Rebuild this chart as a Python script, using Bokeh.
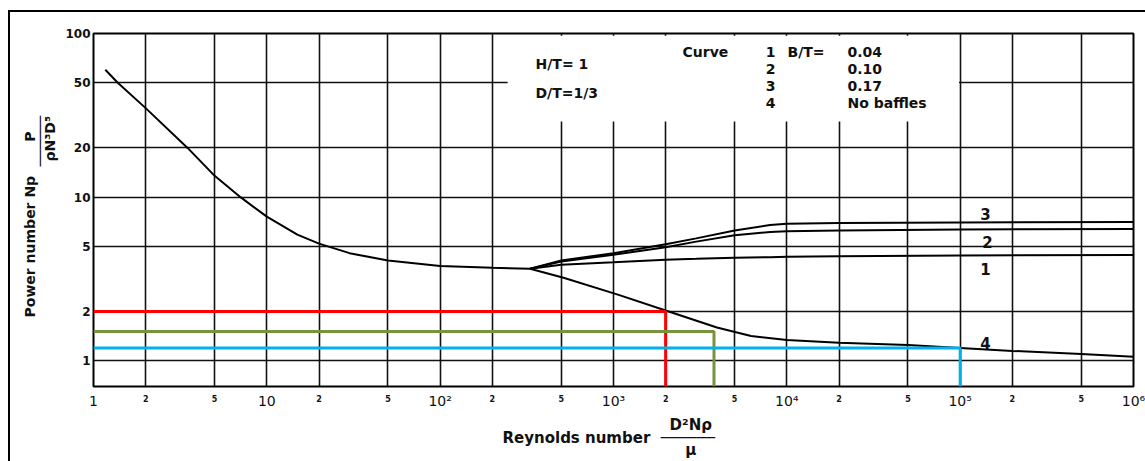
import math
from bokeh.plotting import figure
from bokeh.models import Range1d, FixedTicker, LogAxis, Label, BoxAnnotation, Title
from bokeh.embed import file_html
from bokeh.resources import INLINE

# ---------------- data ----------------
# common laminar branch
main_re = [1.17, 1.38, 2, 3.49, 5, 7.05, 10, 15, 20, 30, 50, 100, 200, 330]
main_np = [60, 50, 35, 20, 13.5, 10, 7.6, 5.9, 5.2, 4.55, 4.1, 3.8, 3.7, 3.65]

# baffled curves 1, 2, 3
baf_re = [330, 500, 1000, 2000, 3000, 5000, 8000, 10000, 20000, 100000, 1000000]
c1_np = [3.65, 3.87, 4.0, 4.15, 4.2, 4.27, 4.3, 4.32, 4.35, 4.4, 4.43]
c2_np = [3.65, 4.05, 4.45, 4.95, 5.35, 5.85, 6.12, 6.2, 6.25, 6.35, 6.4]
c3_np = [3.65, 4.1, 4.55, 5.15, 5.6, 6.25, 6.75, 6.88, 6.95, 7.0, 7.05]

# curve 4: no baffles
c4_re = [330, 515, 1060, 2000, 3950, 6220, 10000, 20000, 50000, 100000, 200000, 500000, 1000000]
c4_np = [3.65, 3.22, 2.54, 2.03, 1.6, 1.42, 1.34, 1.29, 1.25, 1.2, 1.15, 1.1, 1.06]

# coloured read-off guides
guide_re = [2000, 3800, 100000]
guide_np = [2.0, 1.51, 1.2]
guide_colors = ["#FF0000", "#77933C", "#00B0F0"]

# axes
x_grid = [1, 2, 5, 10, 20, 50, 100, 200, 500, 1000, 2000, 5000, 10000, 20000,
          50000, 100000, 200000, 500000, 1000000]
decade_ticks = [1, 10, 100, 1000, 10000, 100000, 1000000]
decade_labels = ["1", "10", "10²", "10³", "10⁴", "10⁵", "10⁶"]
minor_ticks = [2, 5, 20, 50, 200, 500, 2000, 5000, 20000, 50000, 200000, 500000]
minor_labels = ["2", "5", "2", "5", "2", "5", "2", "5", "2", "5", "2", "5"]
y_ticks = [1, 2, 5, 10, 20, 50, 100]
y_labels = ["1", "2", "5", "10", "20", "50", "100"]

legend_curves = ["1", "2", "3", "4"]
legend_bt = ["0.04", "0.10", "0.17", "No baffles"]

FONT = "DejaVu Sans"
INK = "#111111"
W, H = 1145, 461
Y0 = 0.697
NB = "\u00a0"
BAR = "\u2500"

p = figure(width=W, height=H, x_axis_type="log", y_axis_type="log",
           x_range=Range1d(1, 1e6), y_range=Range1d(Y0, 100),
           output_backend="svg", toolbar_location=None,
           min_border_left=93, min_border_right=12, min_border_top=33, min_border_bottom=71)
p.background_fill_color = "white"
p.border_fill_color = None
p.outline_line_color = "black"
p.outline_line_width = 2
# cropped outer frame (left and top edges) drawn behind the transparent canvas border
p.styles = {
    "background-color": "white",
    "background-image": "linear-gradient(#000,#000), linear-gradient(#000,#000)",
    "background-size": "2px 460px, 1140px 2px",
    "background-position": "8px 10px, 8px 10px",
    "background-repeat": "no-repeat",
}

# grid
p.xgrid.ticker = FixedTicker(ticks=x_grid)
p.ygrid.ticker = FixedTicker(ticks=y_ticks)
for g in (p.xgrid, p.ygrid):
    g.grid_line_color = INK
    g.grid_line_width = 1.6
    g.grid_line_alpha = 1

# y axis
ya = p.yaxis[0]
ya.ticker = FixedTicker(ticks=y_ticks)
ya.major_label_overrides = {t: l for t, l in zip(y_ticks, y_labels)}
ya.axis_line_color = None
ya.major_tick_line_color = None
ya.minor_tick_line_color = None
ya.major_tick_out = 0
ya.major_label_standoff = 3
ya.major_label_text_font = FONT
ya.major_label_text_font_style = "bold"
ya.major_label_text_font_size = "12px"
ya.major_label_text_color = INK

# x axis: decade labels
xa = p.xaxis[0]
xa.ticker = FixedTicker(ticks=decade_ticks)
xa.major_label_overrides = {t: l for t, l in zip(decade_ticks, decade_labels)}
xa.axis_line_color = None
xa.major_tick_line_color = None
xa.minor_tick_line_color = None
xa.major_tick_out = 0
xa.major_label_standoff = 6
xa.major_label_text_font = FONT
xa.major_label_text_font_size = "14px"
xa.major_label_text_color = INK

# x axis: small intermediate labels
xm = LogAxis(ticker=FixedTicker(ticks=minor_ticks),
             major_label_overrides={t: l for t, l in zip(minor_ticks, minor_labels)},
             axis_line_color=None, major_tick_line_color=None, minor_tick_line_color=None,
             major_tick_out=0, major_label_standoff=-17,
             major_label_text_font=FONT, major_label_text_font_style="bold",
             major_label_text_font_size="8px", major_label_text_color=INK)
p.add_layout(xm, "below")

# x title: "Reynolds number  D²Nρ / μ"
x_title = "\n".join([
    NB * 32 + "D²Nρ",
    "Reynolds number" + NB * 2 + BAR * 6,
    NB * 35 + "μ",
])
p.add_layout(Title(text=x_title, align="left", offset=409, standoff=4,
                   text_font=FONT, text_font_style="bold", text_font_size="15px",
                   text_line_height=0.72, text_color=INK), "below")

# y title: "Power number Np  P / ρN³D⁵"
y_title = "\n".join([
    "Power number Np" + NB * 7 + "P",
    NB * 31 + BAR * 6,
    NB * 32 + "ρN³D⁵",
])
p.add_layout(Title(text=y_title, align="left", offset=69, standoff=8,
                   text_font=FONT, text_font_style="bold", text_font_size="14px",
                   text_line_height=0.65, text_color=INK), "left")

# blank legend area (no grid there)
p.add_layout(BoxAnnotation(left=245, right=98500, bottom=29, top=97,
                           fill_color="white", fill_alpha=1, line_color=None))

# curves
p.line(main_re, main_np, line_color="black", line_width=2)
p.line(baf_re, c1_np, line_color="black", line_width=2)
p.line(baf_re, c2_np, line_color="black", line_width=2)
p.line(baf_re, c3_np, line_color="black", line_width=2)
p.line(c4_re, c4_np, line_color="black", line_width=2)

# coloured guides
for r, n, c in zip(guide_re, guide_np, guide_colors):
    p.line([1, r, r], [n, n, Y0], line_color=c, line_width=3)


def lab(text, x, y, size="14px", align="left"):
    p.add_layout(Label(x=x, y=y, x_units="canvas", y_units="canvas", text=text,
                       text_font=FONT, text_font_style="bold", text_font_size=size,
                       text_align=align, text_baseline="middle", text_color=INK))


# legend block
lab("H/T= 1", 535, 63)
lab("D/T=1/3", 535, 92)
lab("Curve", 682, 51)
lab("B/T=", 787, 51)
for i, (c, b) in enumerate(zip(legend_curves, legend_bt)):
    lab(c, 770, 51 + 17 * i, align="center")
    lab(b, 847, 51 + 17 * i)

# curve numbers
lab("3", 985, 213, size="15px", align="center")
lab("2", 987, 241, size="15px", align="center")
lab("1", 985, 268, size="15px", align="center")
lab("4", 985, 342, size="15px", align="center")

open("out.html", "w").write(file_html(p, INLINE))
